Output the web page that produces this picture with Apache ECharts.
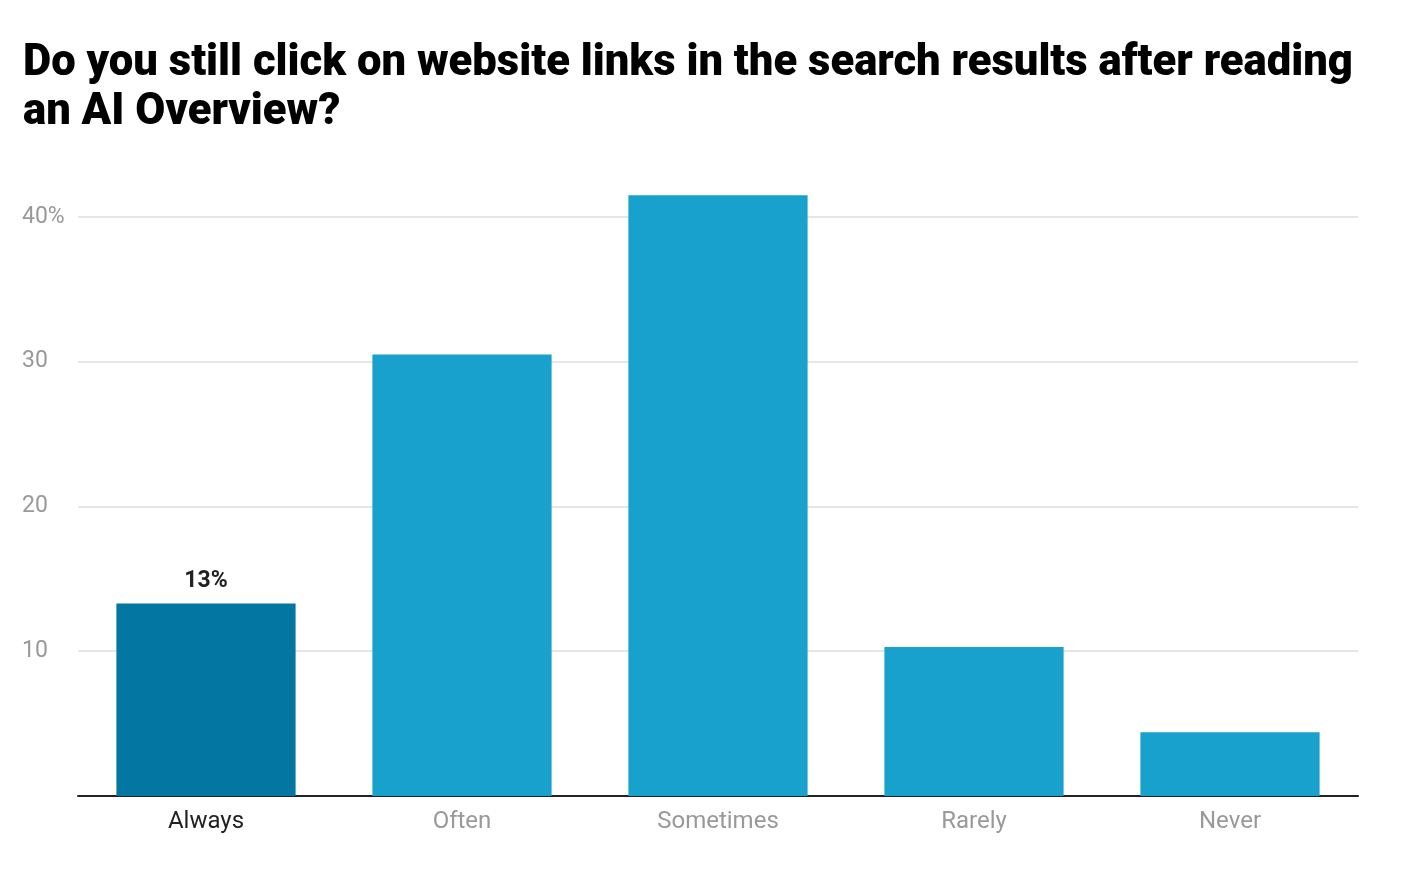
<!DOCTYPE html>
<html><head><meta charset="utf-8">
<script src="https://cdn.jsdelivr.net/npm/echarts@6/dist/echarts.min.js"></script>
<style>html,body{margin:0;padding:0;background:#fff}#c{width:1416px;height:872px}</style>
</head><body><div id="c"></div>
<script>
const titleText = "Do you still click on website links in the search results after reading\nan AI Overview?";
const categories = ["Always", "Often", "Sometimes", "Rarely", "Never"];
const values = [13.3, 30.5, 41.5, 10.3, 4.4];
const highlightIndex = 0;
const highlightLabel = "13%";

const chart = echarts.init(document.getElementById('c'), null, {renderer: 'canvas'});
chart.setOption({
  animation: false,
  backgroundColor: '#fff',
  title: {
    text: titleText, left: 18, top: 35,
    textStyle: {fontFamily: 'Roboto', fontWeight: 900, fontSize: 43.6, lineHeight: 49, color: '#000'}
  },
  grid: {left: 78, right: 58, top: 188, bottom: 76, containLabel: false},
  xAxis: {
    type: 'category', data: categories,
    axisLine: {lineStyle: {color: '#222', width: 2}},
    axisTick: {show: false},
    axisLabel: {
      fontFamily: 'Roboto', fontSize: 24, margin: 14,
      color: (v, i) => i === highlightIndex ? '#222' : '#999'
    }
  },
  yAxis: {
    type: 'value', min: 0, max: 42, interval: 10,
    axisLine: {show: false}, axisTick: {show: false},
    splitLine: {show: true, showMaxLine: false, lineStyle: {color: '#e6e6e6', width: 2}},
    axisLabel: {
      fontFamily: 'Roboto', fontSize: 23, color: '#999', align: 'left', margin: 56,
      padding: [6, 0, 0, 0],
      showMaxLabel: false, showMinLabel: false,
      formatter: v => v === 40 ? '40%' : (v % 10 === 0 && v > 0 ? String(v) : '')
    }
  },
  series: [{
    type: 'bar', barWidth: '70%',
    data: values.map((v, i) => ({
      value: v,
      itemStyle: {color: i === highlightIndex ? '#0377A1' : '#18A1CD'},
      label: i === highlightIndex ? {
        show: true, position: 'top', distance: 11, formatter: highlightLabel,
        fontFamily: 'Roboto', fontWeight: 'bold', fontSize: 23, color: '#222'
      } : {show: false}
    }))
  }]
});
</script></body></html>
